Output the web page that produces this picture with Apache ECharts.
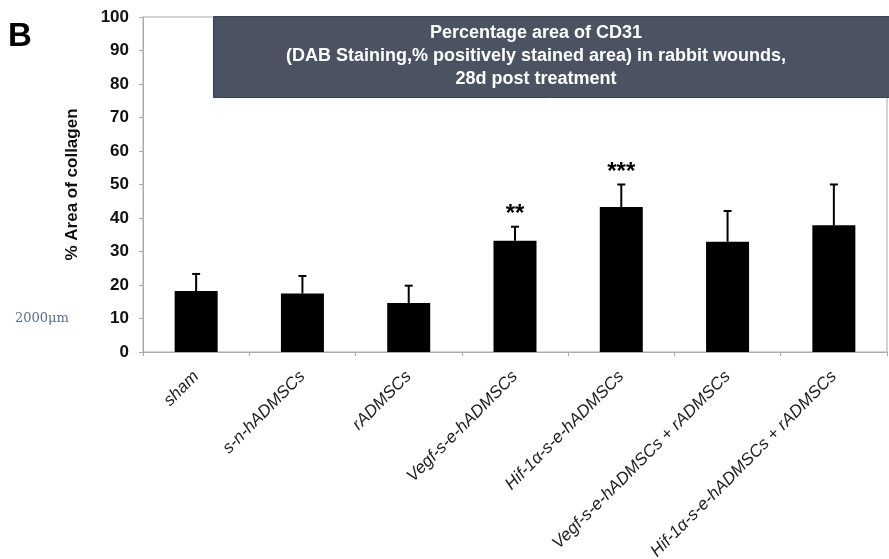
<!DOCTYPE html>
<html>
<head>
<meta charset="utf-8">
<script src="https://cdn.jsdelivr.net/npm/echarts@6/dist/echarts.min.js"></script>
<style>
  html, body { margin: 0; padding: 0; background: #fff; }
  #chart { width: 889px; height: 559px; }
</style>
</head>
<body>
<div id="chart"></div>
<script>
// groups, mean values, error (upper) values, significance marks
const groups = ['sham', 's-n-hADMSCs', 'rADMSCs', 'Vegf-s-e-hADMSCs', 'Hif-1α-s-e-hADMSCs',
  'Vegf-s-e-hADMSCs + rADMSCs', 'Hif-1α-s-e-hADMSCs + rADMSCs'];
const means = [18.2, 17.5, 14.6, 33.2, 43.3, 32.9, 37.8];
const errTops = [23.3, 22.7, 19.8, 37.4, 50.0, 42.1, 50.0];
const stars = ['', '', '', '**', '***', '', ''];
const yTicks = [0, 10, 20, 30, 40, 50, 60, 70, 80, 90, 100];

const chart = echarts.init(document.getElementById('chart'));

const errData = groups.map((g, i) => [i, means[i], errTops[i], stars[i]]);

const option = {
  backgroundColor: '#fff',
  animation: false,
  grid: {
    left: 143, right: 2, top: 17, bottom: 207,
    outerBoundsMode: 'none',
    show: true, borderColor: '#aaa', borderWidth: 1, backgroundColor: 'transparent'
  },
  xAxis: {
    type: 'category',
    data: groups,
    axisLine: { lineStyle: { color: '#aaa' } },
    axisTick: { show: true, length: 4, lineStyle: { color: '#aaa' } },
    axisLabel: {
      rotate: 45,
      interval: 0,
      margin: 22,
      fontFamily: 'Liberation Sans, Arial, sans-serif',
      fontStyle: 'italic',
      fontSize: 17,
      color: '#222'
    }
  },
  yAxis: {
    type: 'value',
    min: yTicks[0],
    max: yTicks[yTicks.length - 1],
    interval: 10,
    name: '% Area of collagen',
    nameLocation: 'middle',
    nameGap: 62,
    nameTextStyle: {
      fontFamily: 'Liberation Sans, Arial, sans-serif',
      fontWeight: 'bold',
      fontSize: 17,
      color: '#111'
    },
    axisLine: { show: true, lineStyle: { color: '#aaa' } },
    axisTick: { show: true, length: 4, lineStyle: { color: '#aaa' } },
    splitLine: { show: false },
    axisLabel: {
      margin: 14,
      fontFamily: 'Liberation Sans, Arial, sans-serif',
      fontWeight: 'bold',
      fontSize: 17,
      color: '#111'
    }
  },
  graphic: [
    {
      type: 'rect',
      left: 213, top: 16,
      shape: { width: 676, height: 81 },
      style: { fill: '#4b5363', stroke: '#3a4250', lineWidth: 1 },
      z: 100
    },
    {
      type: 'text',
      x: 536, y: 56,
      style: {
        text: 'Percentage area of CD31\n(DAB Staining,% positively stained area) in rabbit wounds,\n28d post treatment',
        fill: '#fff',
        font: 'bold 18px "Liberation Sans", Arial, sans-serif',
        align: 'center',
        verticalAlign: 'middle',
        lineHeight: 23
      },
      z: 101
    },
    {
      type: 'text',
      left: 8, top: 20,
      style: {
        text: 'B',
        fill: '#000',
        font: 'bold 33px "Liberation Sans", Arial, sans-serif'
      }
    },
    {
      type: 'text',
      left: 15, top: 312,
      style: {
        text: '2000μm',
        fill: '#5a7098',
        font: '13px "DejaVu Serif", serif'
      }
    }
  ],
  series: [
    {
      type: 'bar',
      data: means,
      barWidth: 43,
      itemStyle: { color: '#000' },
      z: 2
    },
    {
      type: 'custom',
      data: errData,
      z: 3,
      renderItem: function (params, api) {
        const x = api.coord([api.value(0), 0])[0];
        const yMean = api.coord([api.value(0), api.value(1)])[1];
        const yTop = api.coord([api.value(0), api.value(2)])[1];
        const mark = errData[params.dataIndex][3];
        const children = [
          { type: 'line', shape: { x1: x, y1: yMean, x2: x, y2: yTop }, style: { stroke: '#000', lineWidth: 2 } },
          { type: 'line', shape: { x1: x - 4, y1: yTop, x2: x + 4, y2: yTop }, style: { stroke: '#000', lineWidth: 2 } }
        ];
        if (mark) {
          children.push({
            type: 'text',
            x: x, y: yTop - 12,
            style: {
              text: mark,
              fill: '#000',
              font: 'bold 24px "Liberation Sans", Arial, sans-serif',
              align: 'center',
              verticalAlign: 'middle'
            }
          });
        }
        return { type: 'group', children: children };
      }
    }
  ]
};

chart.setOption(option);
window.addEventListener('resize', function () { chart.resize(); });
</script>
</body>
</html>
